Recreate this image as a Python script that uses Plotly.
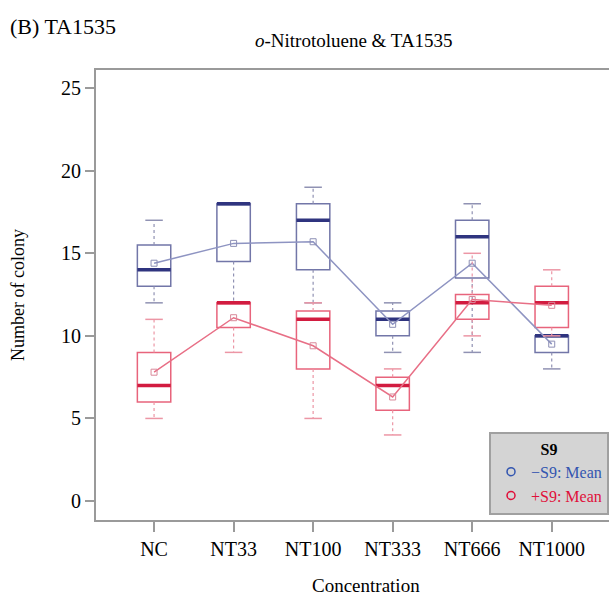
import plotly.graph_objects as go

categories = ["NC", "NT33", "NT100", "NT333", "NT666", "NT1000"]

# -S9 (blue)
m_lower = [12, 12, 12, 9, 9, 8]
m_q1 = [13, 14.5, 14, 10, 13.5, 9]
m_median = [14, 18, 17, 11, 16, 10]
m_q3 = [15.5, 18, 18, 11.5, 17, 10]
m_upper = [17, 18, 19, 12, 18, 10]
m_mean = [14.4, 15.6, 15.7, 10.7, 14.4, 9.5]

# +S9 (red)
p_lower = [5, 9, 5, 4, 10, 10]
p_q1 = [6, 10.5, 8, 5.5, 11, 10.5]
p_median = [7, 12, 11, 7, 12, 12]
p_q3 = [9, 12, 11.5, 7.5, 12.5, 13]
p_upper = [11, 12, 12, 8, 15, 14]
p_mean = [7.8, 11.1, 9.4, 6.3, 12.2, 11.85]

y_ticks = [0, 5, 10, 15, 20, 25]

FONT = "Liberation Serif"
BOX_W = 0.42
CAP_W = 0.11

L, R, T, B = 96, 0, 70, 78
PW, PH = 609 - L - R, 598 - T - B

xs = list(range(len(categories)))
fig = go.Figure()


def add_group(lower, q1, med, q3, upper, mean, box_col, med_col, wh_col, line_col, mean_col):
    fig.add_trace(go.Box(
        x=xs, q1=q1, median=med, q3=q3, lowerfence=q1, upperfence=q3,
        width=BOX_W, fillcolor="rgba(0,0,0,0)", line=dict(color=box_col, width=1.5),
        whiskerwidth=0, boxpoints=False, showlegend=False, hoverinfo="skip"))
    wx, wy, cx, cy, mx, my = [], [], [], [], [], []
    for i in xs:
        wx += [i, i, None, i, i, None]
        wy += [q3[i], upper[i], None, q1[i], lower[i], None]
        for v in (upper[i], lower[i]):
            cx += [i - CAP_W, i + CAP_W, None]
            cy += [v, v, None]
        mx += [i - BOX_W / 2, i + BOX_W / 2, None]
        my += [med[i], med[i], None]
    fig.add_trace(go.Scatter(x=wx, y=wy, mode="lines", line=dict(color=wh_col, width=1.2, dash="dot"),
                             showlegend=False, hoverinfo="skip"))
    fig.add_trace(go.Scatter(x=cx, y=cy, mode="lines", line=dict(color=wh_col, width=1.5),
                             showlegend=False, hoverinfo="skip"))
    fig.add_trace(go.Scatter(x=mx, y=my, mode="lines", line=dict(color=med_col, width=3.5),
                             showlegend=False, hoverinfo="skip"))
    fig.add_trace(go.Scatter(x=xs, y=mean, mode="lines+markers", line=dict(color=line_col, width=1.5),
                             marker=dict(symbol="square-open", size=6, color=mean_col, line=dict(width=1)),
                             showlegend=False, hoverinfo="skip"))


add_group(m_lower, m_q1, m_median, m_q3, m_upper, m_mean,
          "#7276a8", "#2f347f", "#9092b3", "#8e94c2", "#8c8fb5")
add_group(p_lower, p_q1, p_median, p_q3, p_upper, p_mean,
          "#e8647c", "#d21c40", "#ec96a5", "#e86f86", "#d9899a")

fig.add_trace(go.Scatter(x=[None], y=[None], mode="markers",
                         marker=dict(symbol="circle-open", size=8, color="#3356b0", line=dict(width=1.5)),
                         name="<span style='color:#3356b0'>\u2212S9: Mean</span>"))
fig.add_trace(go.Scatter(x=[None], y=[None], mode="markers",
                         marker=dict(symbol="circle-open", size=8, color="#e0103a", line=dict(width=1.5)),
                         name="<span style='color:#e0103a'>+S9: Mean</span>"))

fig.update_layout(
    width=609, height=598,
    margin=dict(l=L, r=R, t=T, b=B, autoexpand=False),
    paper_bgcolor="white", plot_bgcolor="white",
    font=dict(family=FONT, size=20, color="black"),
    boxmode="overlay",
    legend=dict(x=1, xanchor="right", y=(520 - 515) / PH, yanchor="bottom",
                bgcolor="#d4d4d4", bordercolor="#a0a0a0", borderwidth=2,
                font=dict(family=FONT, size=16),
                title=dict(text="<b>S9</b>", side="top center", font=dict(family=FONT, size=16)),
                itemwidth=30, tracegroupgap=0),
    xaxis=dict(range=[-0.73, 5.72], tickvals=xs, ticktext=categories, automargin=False,
               showline=True, linecolor="#9a9a9a", linewidth=2, mirror=True,
               ticks="outside", ticklen=10, tickwidth=2, tickcolor="#9a9a9a",
               showgrid=False, zeroline=False, tickfont=dict(size=20)),
    yaxis=dict(range=[-1.15, 26.1], tickvals=y_ticks, automargin=False,
               showline=True, linecolor="#9a9a9a", linewidth=2, mirror=True,
               ticks="outside", ticklen=9, tickwidth=2, tickcolor="#9a9a9a",
               showgrid=False, zeroline=False, tickfont=dict(size=20),
               title=dict(text="Number of colony", font=dict(size=18), standoff=32)),
    annotations=[
        dict(text="(B) TA1535", x=(8 - L) / PW, y=(520 - 27) / PH, xanchor="left", yanchor="middle",
             xref="paper", yref="paper", showarrow=False, font=dict(size=22)),
        dict(text="<i>o</i>-Nitrotoluene &amp; TA1535", x=(354 - L) / PW, y=(520 - 40) / PH,
             yanchor="middle", xref="paper", yref="paper", showarrow=False, font=dict(size=19)),
        dict(text="Concentration", x=(366 - L) / PW, y=-(585 - 520) / PH, yanchor="middle",
             xref="paper", yref="paper", showarrow=False, font=dict(size=19)),
    ],
)

fig.write_html("out.html", config={"displayModeBar": False},
               post_script="document.body.style.margin='0';")
